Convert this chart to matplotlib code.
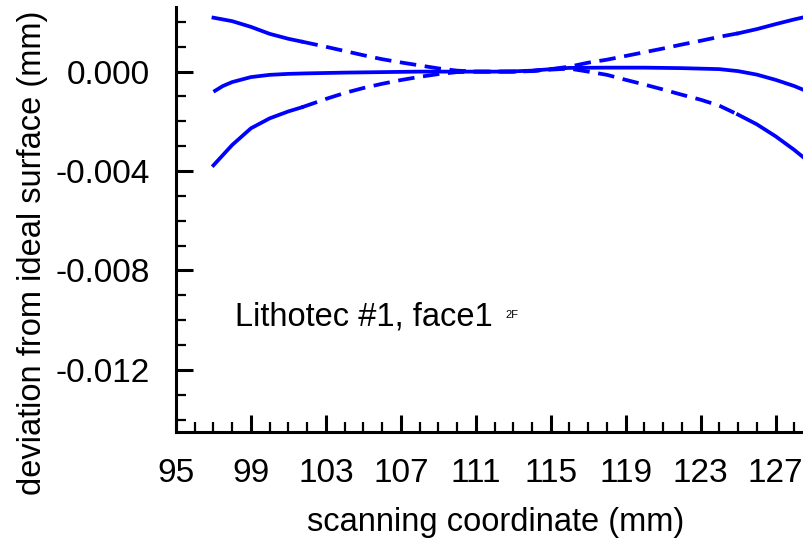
import numpy as np
import matplotlib
matplotlib.use("Agg")
import matplotlib.pyplot as plt

plt.rcParams['font.family'] = ['Liberation Sans', 'DejaVu Sans']

# scanning coordinate (mm) and deviation (mm) for the three traces
x_outer = [97, 98, 99, 100, 101, 101.7, 103, 104, 105, 106, 107, 108, 109, 110,
           111, 112, 113, 114, 115, 116, 117, 118, 119, 120, 121, 122, 123, 124,
           125, 126, 127, 128, 128.7]
y_upper = [0.00217, 0.00203, 0.00180, 0.00152, 0.00132, 0.00121, 0.00100, 0.00083,
           0.00066, 0.00050, 0.00037, 0.00025, 0.00013, 0.00004, 0.0, 0.0, 0.0,
           0.00003, 0.00010, 0.00020, 0.00036, 0.00048, 0.00063, 0.00078, 0.00093,
           0.00109, 0.00124, 0.00140, 0.00154, 0.00171, 0.00191, 0.00210, 0.00222]
y_lower = [-0.00377, -0.00295, -0.00228, -0.00188, -0.00160, -0.00144, -0.00110,
           -0.00086, -0.00066, -0.00049, -0.00034, -0.00021, -0.00010, -0.00002,
           0.0, 0.0, 0.0, 0.00002, 0.00008, 0.00012, 0.0, -0.00013, -0.00033,
           -0.00052, -0.00072, -0.00093, -0.00113, -0.00137, -0.00173, -0.00212,
           -0.00260, -0.00315, -0.00358]

x_mid = [97, 97.5, 98, 99, 100, 101, 102, 104, 106, 108, 110, 112, 113, 114, 115,
         116, 118, 120, 122, 124, 125, 126, 127, 128, 128.7]
y_mid = [-0.00081, -0.00058, -0.00042, -0.00022, -0.00013, -0.00009, -0.00007,
         -0.00004, -0.00002, 0.0, 0.0, 0.0, 0.00001, 0.00004, 0.00010, 0.00015,
         0.00016, 0.00016, 0.00014, 0.00010, 0.00002, -0.00012, -0.00033,
         -0.00058, -0.00080]

left_solid_end = 101.7
right_solid_start = 125.0

x_ticks = [95, 99, 103, 107, 111, 115, 119, 123, 127]
y_ticks = [0.0, -0.004, -0.008, -0.012]

W, H = 804, 544
fig = plt.figure(figsize=(W / 100, H / 100), dpi=100)
ax = fig.add_axes([176 / W, (H - 432) / H, 637 / W, 425 / H])

blue = (0, 0, 1)
lw = 2.7

ax.plot(x_mid, y_mid, color=blue, lw=lw, solid_capstyle='butt')

xo = np.array(x_outer)
for yy in (y_upper, y_lower):
    yy = np.array(yy)
    left = xo <= left_solid_end
    mid = (xo >= left_solid_end) & (xo <= right_solid_start)
    right = xo >= right_solid_start
    ax.plot(xo[left], yy[left], color=blue, lw=lw)
    ax.plot(xo[mid], yy[mid], color=blue, lw=lw, dashes=(4.4, 2.3), dash_capstyle='butt')
    ax.plot(xo[right], yy[right], color=blue, lw=lw)

ax.set_xlim(95, 129)
ax.set_ylim(-0.0145, 0.0026)

ax.set_xticks(x_ticks)
ax.set_xticks(np.arange(95, 130, 1), minor=True)
ax.set_yticks(y_ticks)
ax.set_yticks(np.arange(-0.014, 0.0025, 0.001), minor=True)
ax.set_xticklabels([str(v) for v in x_ticks])
ax.set_yticklabels(['%.3f' % v for v in y_ticks])

ax.tick_params(which='major', direction='in', length=12, width=2.2,
               labelsize=24, pad=19, colors='black')
ax.tick_params(which='minor', direction='in', length=7.5, width=1.6)
ax.tick_params(top=False, right=False, which='both')

for side in ('top', 'right'):
    ax.spines[side].set_visible(False)
for side in ('left', 'bottom'):
    ax.spines[side].set_linewidth(2.2)

ax.text(98.15, -0.0102, 'Lithotec #1, face1', fontsize=23.5, va='baseline')
ax.text(112.6, -0.0099, '2F', fontsize=8, va='baseline')

fig.text(496 / W, 1 - 522 / H, 'scanning coordinate (mm)', fontsize=23.5,
         ha='center', va='center')
fig.text(33 / W, 1 - 253 / H, 'deviation from ideal surface (mm)', fontsize=23.5,
         ha='center', va='center', rotation=90)

fig.savefig('out.png', dpi=100)
